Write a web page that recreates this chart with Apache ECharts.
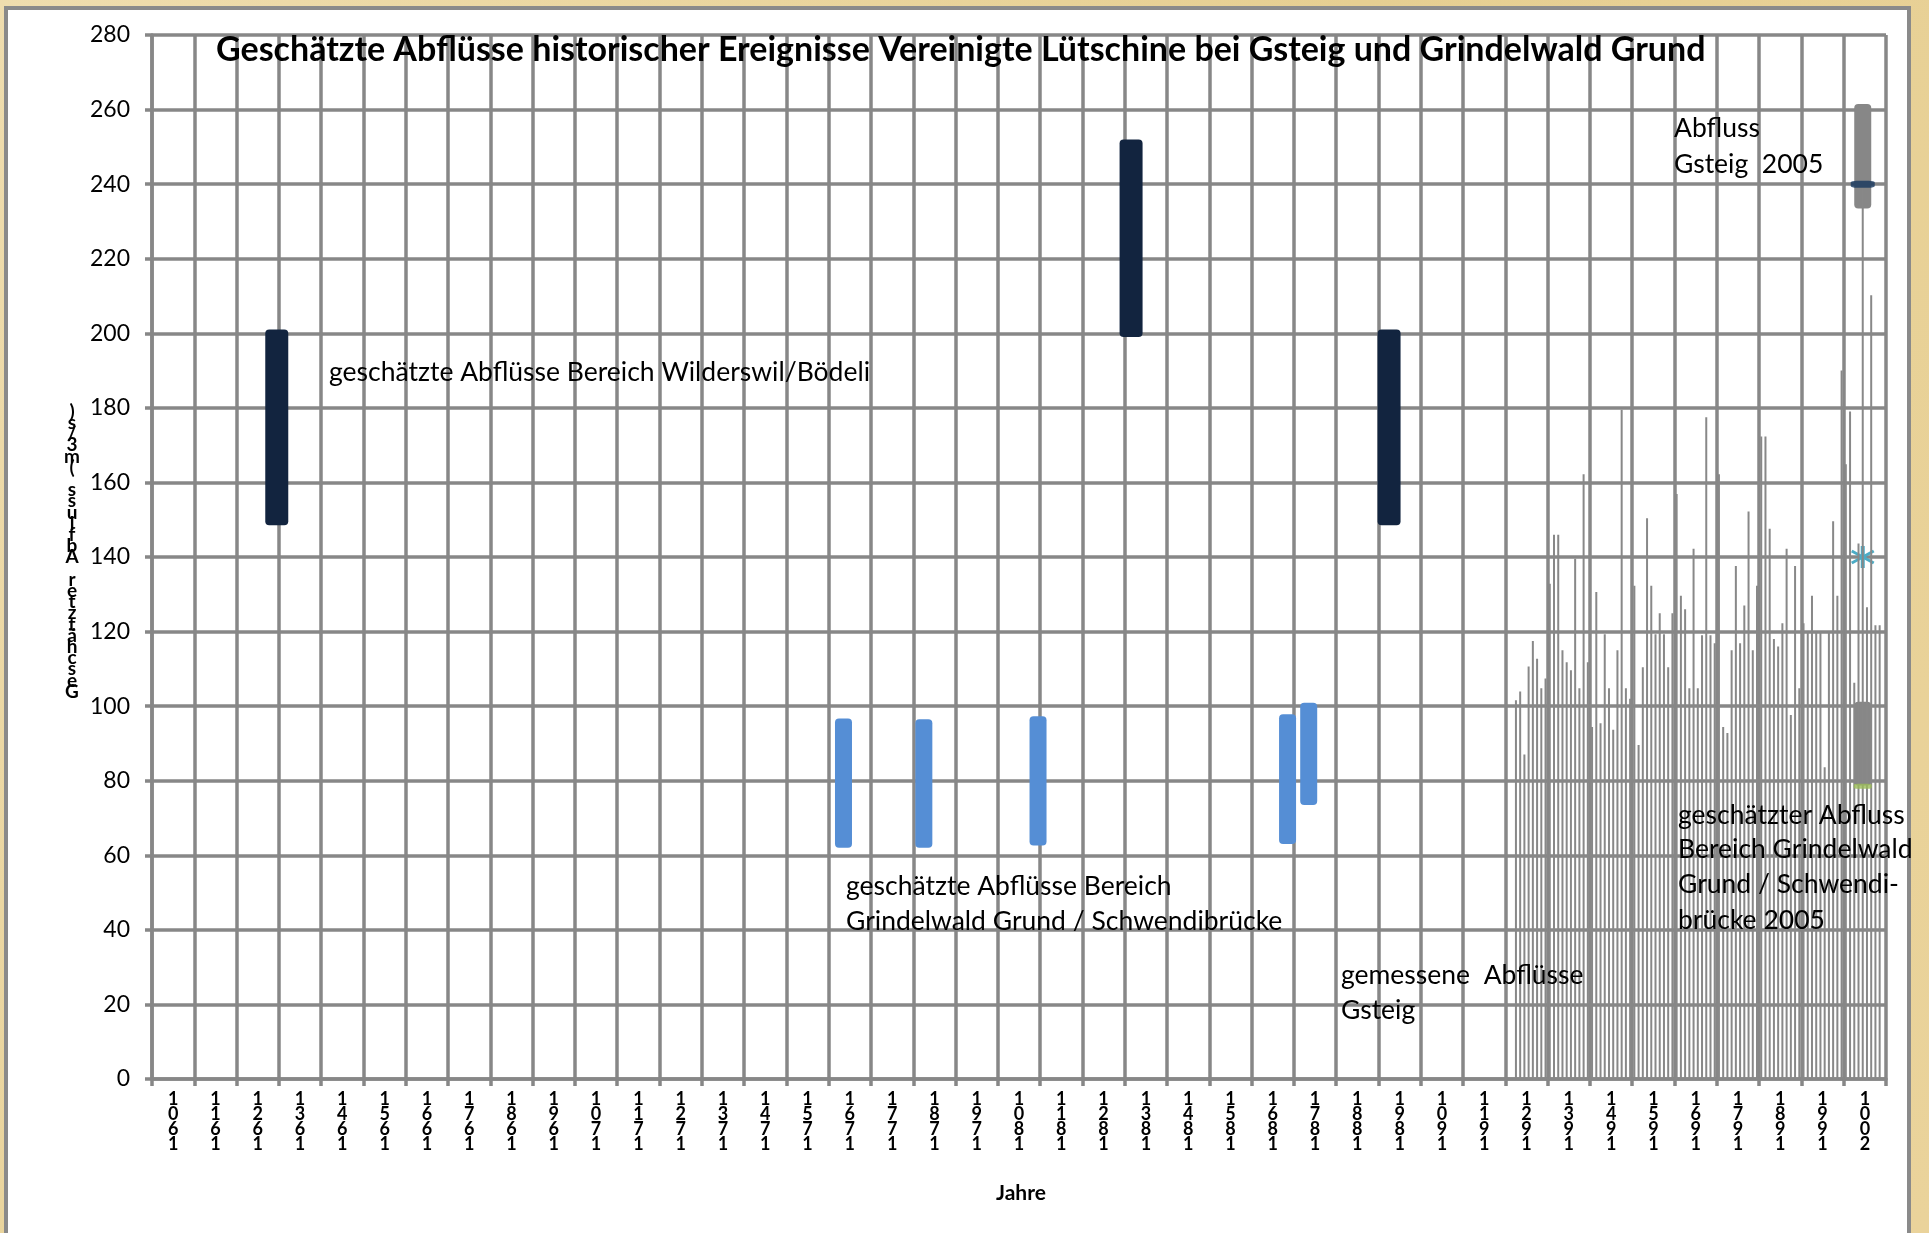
<!DOCTYPE html>
<html>
<head>
<meta charset="utf-8">
<script src="https://cdn.jsdelivr.net/npm/echarts@6/dist/echarts.min.js"></script>
<style>
  html, body { margin: 0; padding: 0; background: #EAD6A2; }
  #chart { width: 1929px; height: 1233px; }
</style>
</head>
<body>
<div id="chart"></div>
<script>
// ---------- DATA ----------
var firstYear = 1601;
var lastYear = 2010;

var tickLabels = ['1601','1611','1621','1631','1641','1651','1661','1671','1681','1691',
  '1701','1711','1721','1731','1741','1751','1761','1771','1781','1791',
  '1801','1811','1821','1831','1841','1851','1861','1871','1881','1891',
  '1901','1911','1921','1931','1941','1951','1961','1971','1981','1991','2001'];

// estimated discharges Wilderswil / Bödeli (low / high)
var wildersYears = [1630, 1832, 1893];
var wildersLow   = [148.5, 199, 148.5];
var wildersHigh  = [201, 252, 201];

// estimated discharges Grindelwald Grund / Schwendibrücke (low / high)
var grindYears = [1764, 1783, 1810, 1869, 1874];
var grindLow   = [62, 62, 62.6, 63, 73.5];
var grindHigh  = [96.7, 96.5, 97.3, 97.8, 100.9];

// measured annual peak discharges Gsteig
var gsteigYears = [1923,1924,1925,1926,1927,1928,1929,1930,
  1931,1932,1933,1934,1935,1936,1937,1938,1939,1940,
  1941,1942,1943,1944,1945,1946,1947,1948,1949,1950,
  1951,1952,1953,1954,1955,1956,1957,1958,1959,1960,
  1961,1962,1963,1964,1965,1966,1967,1968,1969,1970,
  1971,1972,1973,1974,1975,1976,1977,1978,1979,1980,
  1981,1982,1983,1984,1985,1986,1987,1988,1989,1990,
  1991,1992,1993,1994,1995,1996,1997,1998,1999,2000,
  2001,2002,2003,2004,2005,2006,2007,2008,2009];
var gsteigValues = [101.6,103.9,87,110.6,117.5,112.7,104.8,107.4,
  132.8,146,146,115,111.8,109.6,139.5,104.8,162.2,111.8,
  94.4,130.6,95.4,119.3,104.8,93.7,115,179.5,104.8,102,
  132.3,89.6,110.4,150.4,132.3,119.3,124.9,119.3,110.4,124.9,
  156.9,129.6,126,104.8,142.2,104.8,119,177.5,119,116.9,
  162.2,94.4,92.8,115,137.6,116.9,127,152.2,115,132.3,
  172.3,172.3,147.6,118,116,122.2,142.2,97.6,137.6,104.8,
  122.2,120,129.6,120,120,83.6,120,149.6,129.6,190,
  164.9,179,106.3,143.6,240,126.5,210.2,121.7,121.7];

// 2005 event
var event2005Year = 2005;
var gsteig2005Low = 233.5, gsteig2005High = 261.5, gsteig2005Value = 240;
var grind2005Low = 78.7, grind2005High = 101.2, grind2005Value = 78.5;
var other2005Value = 140;

// ---------- BUILD ----------
var years = [];
for (var y = firstYear; y <= lastYear; y++) years.push(String(y));
function idx(year) { return years.indexOf(String(year)); }

function rangeData(ys, lo, hi) {
  return ys.map(function (yr, i) { return [idx(yr), lo[i], hi[i]]; });
}
function rangeRender(width, color) {
  return function (params, api) {
    var p1 = api.coord([api.value(0), api.value(1)]);
    var p2 = api.coord([api.value(0), api.value(2)]);
    return {
      type: 'rect',
      shape: { x: p1[0] - width / 2, y: p2[1], width: width, height: p1[1] - p2[1], r: 4 },
      style: { fill: color }
    };
  };
}

var gridGray = '#878787';
var fontFam = 'Lato, "Open Sans", sans-serif';
var noteFont = '26.5px ' + fontFam;

var chart = echarts.init(document.getElementById('chart'), null, { renderer: 'canvas' });

var yTitle = 'Geschätzter Abfluss (m3/s)'.split('').reverse().join('\n');

function note(x, y, t) {
  return { type: 'text', z: 100, x: x, y: y,
    style: { text: t, font: noteFont, fill: '#000', textVerticalAlign: 'middle' } };
}

var option = {
  backgroundColor: {
    type: 'linear', x: 0, y: 0, x2: 1, y2: 1,
    colorStops: [{ offset: 0, color: '#EFDDAE' }, { offset: 0.5, color: '#E6CF92' }, { offset: 1, color: '#EAD39B' }]
  },
  animation: false,
  graphic: [
    { type: 'rect', z: -10, shape: { x: 6, y: 8, width: 1903, height: 1240 },
      style: { fill: '#FFFFFF', stroke: '#8A8A8A', lineWidth: 4 } },
    { type: 'text', z: 100, x: 216, y: 50,
      style: { text: 'Geschätzte Abflüsse historischer Ereignisse Vereinigte Lütschine bei Gsteig und Grindelwald Grund',
        font: 'bold 34px ' + fontFam, fill: '#000', textVerticalAlign: 'middle' } },
    note(329, 372, 'geschätzte Abflüsse Bereich Wilderswil/Bödeli'),
    note(846, 886, 'geschätzte Abflüsse Bereich'),
    note(846, 921, 'Grindelwald Grund / Schwendibrücke'),
    note(1341, 975, 'gemessene  Abflüsse'),
    note(1341, 1010, 'Gsteig'),
    note(1674, 128, 'Abfluss'),
    note(1674, 164, 'Gsteig  2005'),
    note(1678, 815, 'geschätzter Abfluss'),
    note(1678, 849, 'Bereich Grindelwald'),
    note(1678, 884, 'Grund / Schwendi-'),
    note(1678, 920, 'brücke 2005'),
    { type: 'text', z: 100, x: 1021, y: 1193,
      style: { text: 'Jahre', font: 'bold 21px ' + fontFam, fill: '#000', textAlign: 'center', textVerticalAlign: 'middle' } },
    { type: 'text', z: 100, x: 72, y: 406,
      style: { text: yTitle, font: 'bold 19px ' + fontFam, lineHeight: 11.2, fill: '#000', textAlign: 'center', textVerticalAlign: 'top' } }
  ],
  grid: { left: 152, right: 43, top: 35, bottom: 154, show: false },
  xAxis: [
    { type: 'category', data: years, show: false, boundaryGap: true, position: 'bottom' },
    { type: 'category', data: tickLabels, boundaryGap: true, position: 'bottom',
      axisLine: { show: true, lineStyle: { color: gridGray, width: 3.5 } },
      axisTick: { show: true, interval: 0, length: 7, lineStyle: { color: gridGray, width: 3.5 } },
      splitLine: { show: true, interval: 0, showMinLine: true, showMaxLine: true, lineStyle: { color: gridGray, width: 3.5 } },
      axisLabel: { interval: 0, margin: 13, color: '#000', fontSize: 18, fontWeight: 'bold', lineHeight: 15, fontFamily: fontFam,
        formatter: function (v) { return v.split('').reverse().join('\n'); } }
    }
  ],
  yAxis: {
    type: 'value', min: 0, max: 280, interval: 20,
    axisLine: { show: true, lineStyle: { color: gridGray, width: 3.5 } },
    axisTick: { show: true, length: 7, lineStyle: { color: gridGray, width: 3.5 } },
    splitLine: { show: true, lineStyle: { color: gridGray, width: 3.5 } },
    axisLabel: { color: '#000', fontSize: 23, margin: 22, fontFamily: fontFam }
  },
  series: [
    { name: 'gemessene Abflüsse Gsteig', type: 'bar', xAxisIndex: 0, barWidth: 2,
      itemStyle: { color: '#888888' },
      data: gsteigYears.map(function (yr, i) { return [idx(yr), gsteigValues[i]]; }) },
    { name: 'Wilderswil/Bödeli', type: 'custom', xAxisIndex: 0, renderItem: rangeRender(23, '#12243F'),
      encode: { x: 0, y: [1, 2] }, data: rangeData(wildersYears, wildersLow, wildersHigh) },
    { name: 'Grindelwald', type: 'custom', xAxisIndex: 0, renderItem: rangeRender(17, '#558ED5'),
      encode: { x: 0, y: [1, 2] }, data: rangeData(grindYears, grindLow, grindHigh) },
    { name: 'Gsteig 2005 marker', type: 'scatter', xAxisIndex: 0, symbol: 'roundRect', symbolSize: [24, 7],
      itemStyle: { color: '#17375E' }, data: [[idx(event2005Year), gsteig2005Value]] },
    { name: 'Grindelwald 2005 marker', type: 'scatter', xAxisIndex: 0, symbol: 'roundRect', symbolSize: [18, 5],
      itemStyle: { color: '#9BBB59' }, data: [[idx(event2005Year), grind2005Value]] },
    { name: 'Gsteig 2005', type: 'custom', xAxisIndex: 0, renderItem: rangeRender(17, '#878787'),
      encode: { x: 0, y: [1, 2] },
      data: [[idx(event2005Year), gsteig2005Low, gsteig2005High], [idx(event2005Year), grind2005Low, grind2005High]] },
    { name: 'Stern', type: 'custom', xAxisIndex: 0, encode: { x: 0, y: 1 },
      renderItem: function (params, api) {
        var p = api.coord([api.value(0), api.value(1)]);
        var c = '#4BACC6';
        return { type: 'group', children: [
          { type: 'line', shape: { x1: p[0], y1: p[1] - 11, x2: p[0], y2: p[1] + 11 }, style: { stroke: c, lineWidth: 4 } },
          { type: 'line', shape: { x1: p[0] - 11, y1: p[1] - 6, x2: p[0] + 11, y2: p[1] + 6 }, style: { stroke: c, lineWidth: 3 } },
          { type: 'line', shape: { x1: p[0] - 11, y1: p[1] + 6, x2: p[0] + 11, y2: p[1] - 6 }, style: { stroke: c, lineWidth: 3 } }
        ] };
      },
      data: [[idx(event2005Year), other2005Value]] }
  ]
};
chart.setOption(option);
</script>
</body>
</html>
